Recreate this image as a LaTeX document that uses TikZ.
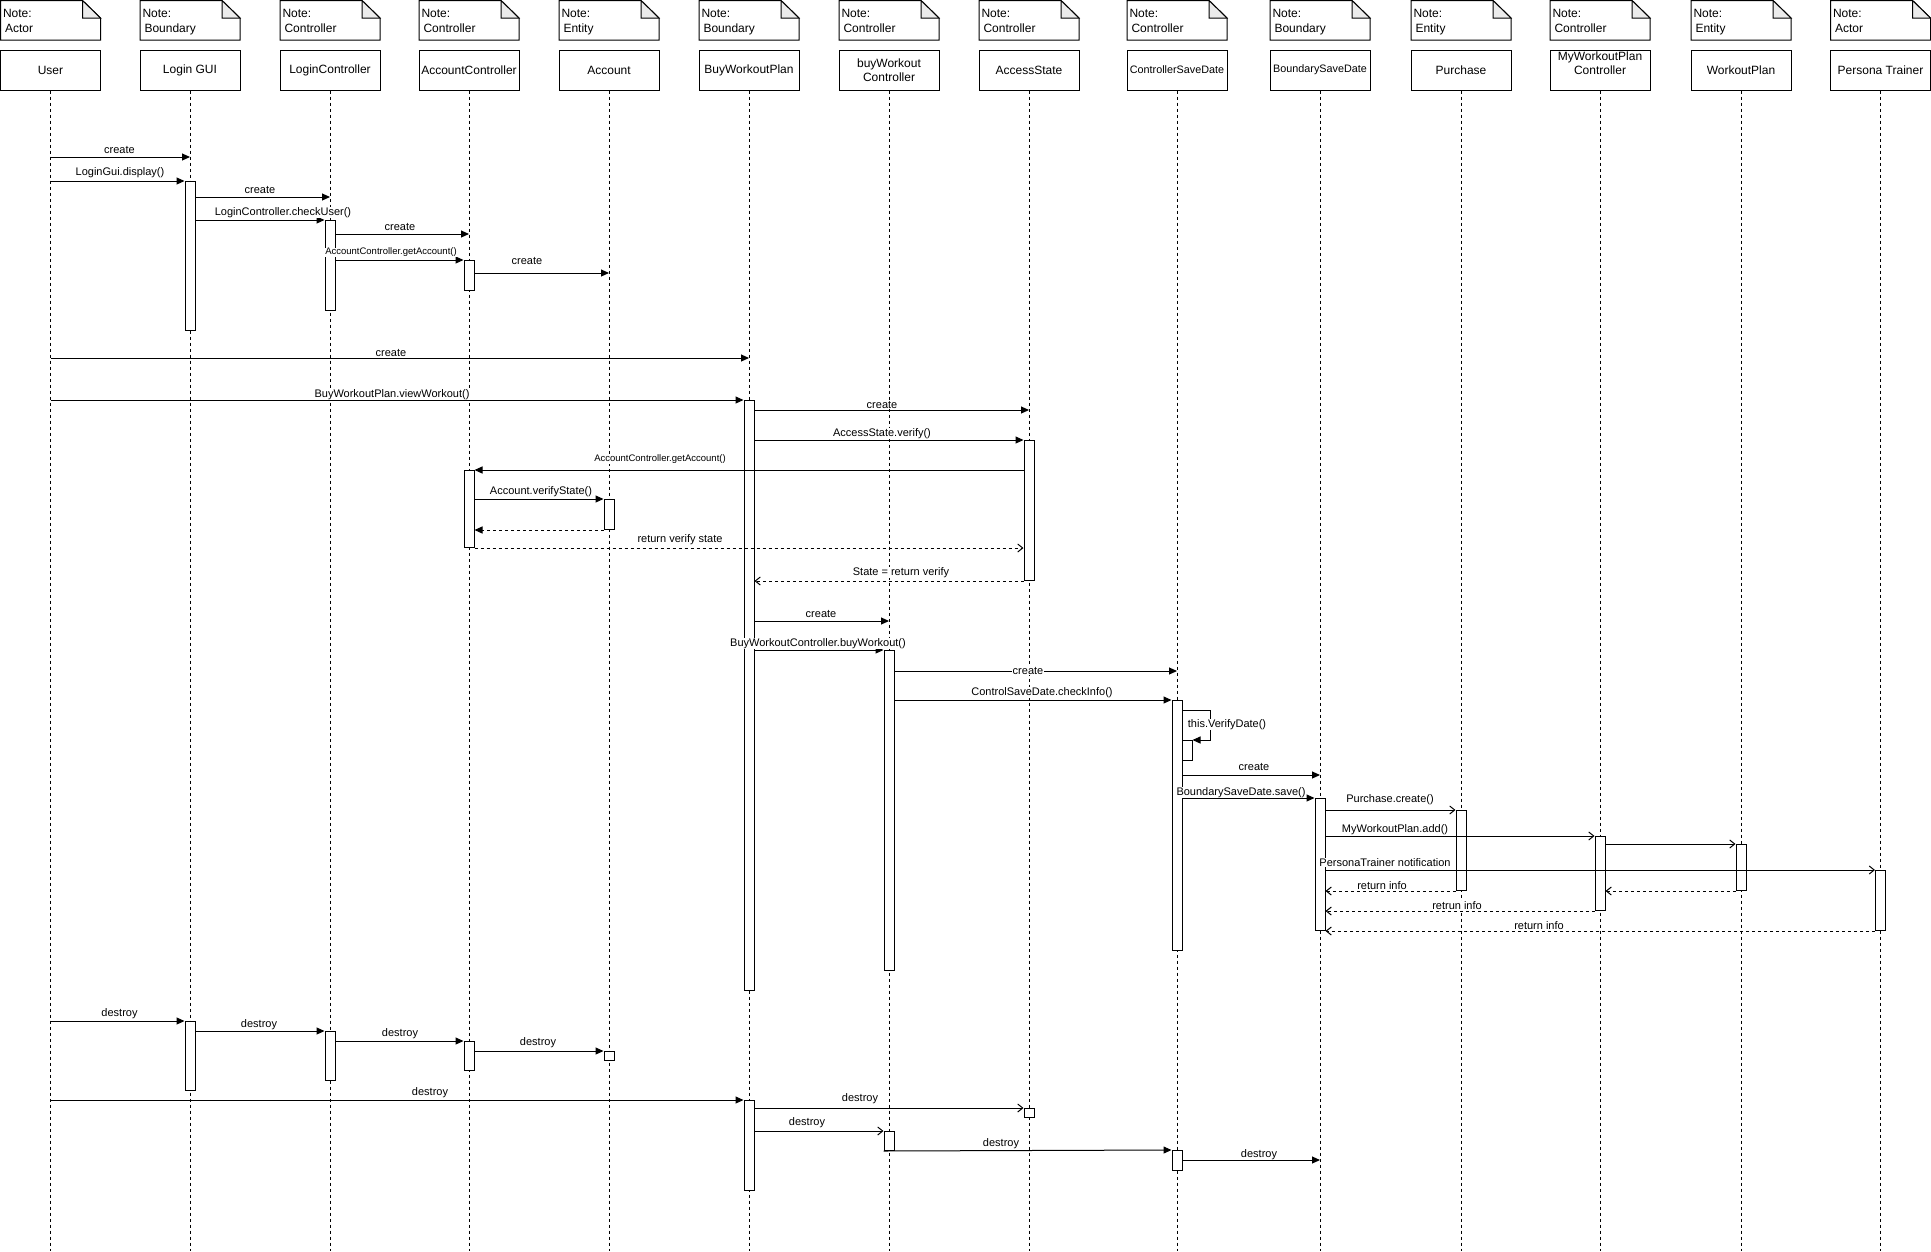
\documentclass[tikz,border=0pt]{standalone}
\usepackage{fontspec}
\setmainfont{Liberation Sans}
\usetikzlibrary{arrows.meta}

\definecolor{foldgray}{HTML}{EBEBEB}

\tikzset{
  head/.style={draw, fill=white, minimum width=100pt, minimum height=40pt,
    inner sep=0pt, align=center, font=\fontsize{12}{14.5}\selectfont},
  smallhead/.style={head, font=\fontsize{10.8}{13}\selectfont},
  notetext/.style={anchor=north west, inner sep=0pt, align=left,
    font=\fontsize{12}{15}\selectfont},
  lifeline/.style={dash pattern=on 3pt off 3pt},
  act/.style={draw, fill=white, minimum width=10pt, inner sep=0pt, anchor=north},
  sync/.style={-{Triangle[length=8pt,width=7pt]}},
  async/.style={-{Straight Barb[length=5pt,width=8pt]}},
  reply/.style={async, dash pattern=on 3pt off 3pt},
  replyfilled/.style={sync, dash pattern=on 3pt off 3pt},
  lbl/.style={fill=white, inner sep=0.5pt, yshift=-1.5pt, font=\fontsize{11}{12}\selectfont},
  smalllbl/.style={lbl, font=\fontsize{9.5}{11}\selectfont},
}

% note with folded corner above a lifeline head
\newcommand\umlnote[3]{%
  \draw[fill=white] (#2,0.5) -- (#2+82,0.5) -- (#2+100,18) -- (#2+100,40) -- (#2,40) -- cycle;
  \draw[fill=foldgray] (#2+82,0.5) -- (#2+82,18) -- (#2+100,18) -- cycle;
  \node[notetext] (#1) at (#2+2,8.5) {Note:\\\hspace{2pt}#3};
}
% activation bar: [options]{name}{lifeline}{top}{bottom}
\newcommand\actbox[5][]{%
  \node[act, minimum height={#5-#4}, #1] (#2) at (#3 |- 0,#4) {};
}

\begin{document}
\begin{tikzpicture}[x=1pt, y=-1pt, line width=1pt]
\useasboundingbox (0,0) rectangle (1931,1251);

% notes
\umlnote{n1}{0.5}{Actor}
\umlnote{n2}{140}{Boundary}
\umlnote{n3}{280}{Controller}
\umlnote{n4}{419}{Controller}
\umlnote{n5}{559}{Entity}
\umlnote{n6}{699}{Boundary}
\umlnote{n7}{839}{Controller}
\umlnote{n8}{979}{Controller}
\umlnote{n9}{1127}{Controller}
\umlnote{n10}{1270}{Boundary}
\umlnote{n11}{1411}{Entity}
\umlnote{n12}{1550}{Controller}
\umlnote{n13}{1691}{Entity}
\umlnote{n14}{1830.5}{Actor}

% lifeline heads
\node[head] (user) at (50.5,70) {User};
\node[head] (lgui) at (190,70) {Login GUI};
\node[head] (lctl) at (330,70) {LoginController};
\node[head] (actl) at (469,70) {AccountController};
\node[head] (acc)  at (609,70) {Account};
\node[head] (bwp)  at (749,70) {BuyWorkoutPlan};
\node[head] (bwc)  at (889,70) {buyWorkout\\Controller};
\node[head] (ast)  at (1029,70) {AccessState};
\node[smallhead] (csd) at (1177,70) {ControllerSaveDate};
\node[smallhead] (bsd) at (1320,70) {BoundarySaveDate};
\node[head] (pur)  at (1461,70) {Purchase};
\node[head, text depth=14pt] (mwc) at (1600,70) {MyWorkoutPlan\\Controller};
\node[head] (wpl)  at (1741,70) {WorkoutPlan};
\node[head] (ptr)  at (1880.5,70) {Persona Trainer};

% lifelines
\foreach \h in {user,lgui,lctl,actl,acc,bwp,bwc,ast,csd,bsd,pur,mwc,wpl,ptr}
  \draw[lifeline] (\h.south) -- (\h |- 0,1251);

% activation bars
\actbox{a1}{lgui}{181}{330}
\actbox{a2}{lctl}{220}{310}
\actbox{a3}{actl}{260}{290}
\actbox{a4}{bwp}{400}{990}
\actbox{a5}{ast}{440}{580}
\actbox{a6}{actl}{470}{547}
\actbox{a7}{acc}{499}{529}
\actbox{a8}{bwc}{650}{970}
\actbox{a9}{csd}{700}{950}
\actbox[xshift=10pt]{a10}{csd}{740}{760}
\actbox{a11}{bsd}{798}{930}
\actbox{a12}{pur}{810}{890}
\actbox{a13}{mwc}{836}{910}
\actbox{a14}{wpl}{844}{890}
\actbox{a15}{ptr}{870}{930}
\actbox{a16}{lgui}{1021}{1090}
\actbox{a17}{lctl}{1031}{1080}
\actbox{a18}{actl}{1041}{1070}
\actbox{a19}{acc}{1051}{1060}
\actbox{a20}{bwp}{1100}{1190}
\actbox{a21}{ast}{1108}{1117}
\actbox{a22}{bwc}{1131}{1150}
\actbox{a23}{csd}{1150}{1170}

% login sequence
\draw[sync] (user |- 0,157) -- (lgui |- 0,157);
\draw[sync] (user |- 0,181) -- (a1.north west);
\draw[sync] (a1.east |- 0,197) -- (lctl |- 0,197);
\draw[sync] (a1.east |- 0,220) -- (a2.north west);
\draw[sync] (a2.east |- 0,234) -- (actl |- 0,234);
\draw[sync] (a2.east |- 0,260) -- (a3.north west);
\draw[sync] (a3.east |- 0,273) -- (acc |- 0,273);

% buying a workout plan
\draw[sync] (user |- 0,358) -- (bwp |- 0,358);
\draw[sync] (user |- 0,400) -- (a4.north west);
\draw[sync] (a4.east |- 0,410) -- (ast |- 0,410);
\draw[sync] (a4.east |- 0,440) -- (a5.north west);
\draw[sync] (a5.west |- 0,470) -- (a6.north east);
\draw[sync] (a6.east |- 0,499) -- (a7.north west);
\draw[replyfilled] (a7.south west) -- (a6.east |- a7.south);
\draw[reply] (a6.south east) -- (a5.west |- a6.south);
\draw[reply] (a5.south west) -- (a4.east |- a5.south);
\draw[sync] (a4.east |- 0,621) -- (bwc |- 0,621);
\draw[sync] (a4.east |- 0,650) -- (a8.north west);
\draw[sync] (a8.east |- 0,671) -- (csd |- 0,671);
\draw[sync] (a8.east |- 0,700) -- (a9.north west);
\draw[sync] (a9.east |- 0,710) -- ++(28,0) |- (a10.north east);
\draw[sync] (a9.east |- 0,775) -- (bsd |- 0,775);
\draw[sync] (a9.east |- 0,798) -- (a11.north west);
\draw[async] (a11.east |- 0,810) -- (a12.north west);
\draw[async] (a11.east |- 0,836) -- (a13.north west);
\draw[async] (a13.east |- 0,844) -- (a14.north west);
\draw[async] (a11.east |- 0,870) -- (a15.north west);
\draw[reply] (a12.south west) -- (a11.east |- a12.south);
\draw[reply] (a14.south west) -- (a13.east |- a14.south);
\draw[reply] (a13.south west) -- (a11.east |- a13.south);
\draw[reply] (a15.south west) -- (a11.south east);

% teardown
\draw[sync] (user |- 0,1021) -- (a16.north west);
\draw[sync] (a16.east |- 0,1031) -- (a17.north west);
\draw[sync] (a17.east |- 0,1041) -- (a18.north west);
\draw[sync] (a18.east |- 0,1051) -- (a19.north west);
\draw[sync] (user |- 0,1100) -- (a20.north west);
\draw[async] (a20.east |- 0,1108) -- (a21.north west);
\draw[async] (a20.east |- 0,1131) -- (a22.north west);
\draw[sync] (a22.south west) -- (a23.north west);
\draw[sync] (a23.east |- 0,1160) -- (bsd |- 0,1160);

% message labels
\node[lbl] (l1) at (119.5,148) {create};
\node[lbl] (l2) at (120,171) {LoginGui.display()};
\node[lbl] (l3) at (260,188) {create};
\node[lbl] (l4) at (283,211) {LoginController.checkUser()};
\node[lbl] (l5) at (400,225) {create};
\node[smalllbl] (l6) at (391,251) {AccountController.getAccount()};
\node[lbl] (l7) at (527,259) {create};
\node[lbl] (l8) at (391,351) {create};
\node[lbl] (l9) at (392,393) {BuyWorkoutPlan.viewWorkout()};
\node[lbl] (l10) at (882,403) {create};
\node[lbl] (l11) at (882,432) {AccessState.verify()};
\node[smalllbl] (l12) at (660,458) {AccountController.getAccount()};
\node[lbl] (l13) at (541,490) {Account.verifyState()};
\node[lbl] (l14) at (680,538) {return verify state};
\node[lbl] (l15) at (901,571) {State = return verify};
\node[lbl] (l16) at (821,612) {create};
\node[lbl] (l17) at (818,642) {BuyWorkoutController.buyWorkout()};
\node[lbl] (l18) at (1028,669) {create};
\node[lbl] (l19) at (1042,691) {ControlSaveDate.checkInfo()};
\node[lbl] (l20) at (1227,723) {this.VerifyDate()};
\node[lbl] (l21) at (1254,765) {create};
\node[lbl] (l22) at (1241,791) {BoundarySaveDate.save()};
\node[lbl] (l23) at (1390,798) {Purchase.create()};
\node[lbl] (l24) at (1395,828) {MyWorkoutPlan.add()};
\node[lbl] (l25) at (1385,861) {PersonaTrainer notification};
\node[lbl] (l26) at (1382,884) {return info};
\node[lbl] (l27) at (1457,904) {retrun info};
\node[lbl] (l28) at (1539,924) {return info};
\node[lbl] (l29) at (119.5,1012) {destroy};
\node[lbl] (l30) at (259,1023) {destroy};
\node[lbl] (l31) at (400,1032) {destroy};
\node[lbl] (l32) at (538,1041) {destroy};
\node[lbl] (l33) at (430,1091) {destroy};
\node[lbl] (l34) at (860,1097) {destroy};
\node[lbl] (l35) at (807,1121) {destroy};
\node[lbl] (l36) at (1001,1142) {destroy};
\node[lbl] (l37) at (1259,1153) {destroy};
\end{tikzpicture}
\end{document}
